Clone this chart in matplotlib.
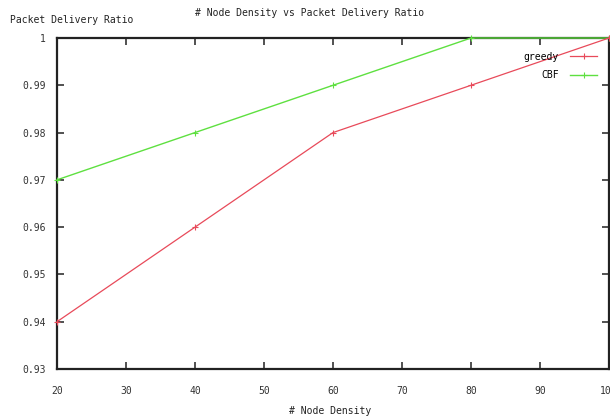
import matplotlib
matplotlib.use("Agg")
import matplotlib.pyplot as plt

node_density = [20, 40, 60, 80, 100]
greedy = [0.94, 0.96, 0.98, 0.99, 1.0]
cbf = [0.97, 0.98, 0.99, 1.0, 1.0]
xticks = [20, 30, 40, 50, 60, 70, 80, 90, 100]
yticks = [0.93, 0.94, 0.95, 0.96, 0.97, 0.98, 0.99, 1.0]
ytick_labels = ["0.93", "0.94", "0.95", "0.96", "0.97", "0.98", "0.99", "1"]

plt.rcParams['font.family'] = ['DejaVu Sans Mono']
fig = plt.figure(figsize=(6.1, 4.18), dpi=100)
ax = fig.add_axes([57/610, 1-369/418, 552/610, (369-38)/418])

ax.plot(node_density, greedy, color='#e84a5a', lw=0.9, marker='+', ms=4, mew=0.8,
        label='greedy', zorder=4, clip_on=False)
ax.plot(node_density, cbf, color='#5ee040', lw=1.0, marker='+', ms=4, mew=0.8,
        label='CBF', zorder=3, clip_on=False)

ax.set_xlim(20, 100)
ax.set_ylim(0.93, 1.0)
ax.set_xticks(xticks)
ax.set_xticklabels([str(v) for v in xticks])
ax.set_yticks(yticks)
ax.set_yticklabels(ytick_labels)
ax.tick_params(direction='in', top=True, right=True, length=5, width=1.2,
               labelsize=7, colors='#333333', pad=8)
ax.tick_params(axis='x', pad=12)
for s in ax.spines.values():
    s.set_linewidth(1.6)
    s.set_color('#222222')

leg = ax.legend(loc='upper right', bbox_to_anchor=(0.995, 0.985), frameon=False,
                fontsize=7, markerfirst=False, handlelength=2.8, labelspacing=0.9,
                handletextpad=1.2)

fig.text(10/610, 1-20/418, 'Packet Delivery Ratio', fontsize=7, va='center', ha='left', color='#222222')
fig.text(310/610, 1-13/418, '# Node Density vs Packet Delivery Ratio', fontsize=7, va='center', ha='center', color='#222222')
fig.text(330/610, 1-411/418, '# Node Density', fontsize=7, va='center', ha='center', color='#222222')

fig.savefig('out.png', dpi=100)
